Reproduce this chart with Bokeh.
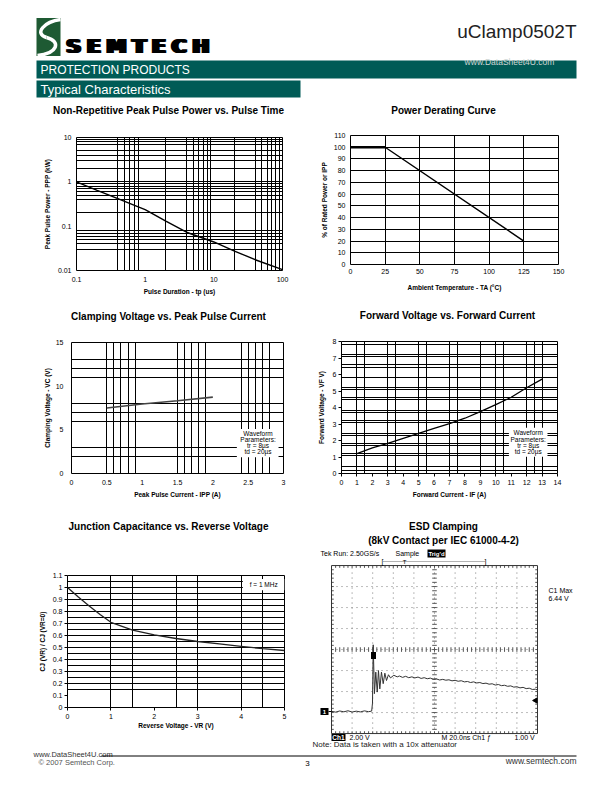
from bokeh.plotting import figure
from bokeh.models import Range1d, FixedTicker, CustomJSTickFormatter
from bokeh.layouts import column, row
from bokeh.embed import file_html
from bokeh.resources import INLINE
from bokeh.core.properties import value

SANS = "Liberation Sans"
LOGOFONT = "DejaVu Sans"
TEAL = "#005b56"
LOGO_GREEN = "#1e5a33"
PAGE_W = 610

# ---------------- data ----------------
pulse_tp_us = [0.1, 0.2, 0.4, 0.7, 1, 2, 4, 10, 20, 40, 100]
pulse_ppp_kw = [1.0, 0.64, 0.42, 0.295, 0.235, 0.13, 0.073, 0.044, 0.0275, 0.0175, 0.0105]
pulse_x_ticks = [0.1, 1, 10, 100]
pulse_y_ticks = [0.01, 0.1, 1, 10]
pulse_x_grid = [0.4, 0.5, 0.6, 0.7, 0.8, 2, 4, 5, 6, 7, 8, 9, 20, 40, 50, 60, 70, 80, 90]
pulse_y_grid = [0.03, 0.04, 0.05, 0.06, 0.07, 0.08, 0.2, 0.4, 0.5, 0.6, 0.7, 0.8, 0.9,
                1, 2, 3, 4, 5, 7, 8, 9]

derate_temp_c = [0, 25, 125]
derate_pct = [100, 100, 20]
derate_x_ticks = [0, 25, 50, 75, 100, 125, 150]
derate_y_ticks = [0, 10, 20, 30, 40, 50, 60, 70, 80, 90, 100, 110]
derate_x_grid = [25, 50, 75, 100, 125]
derate_y_grid = [10, 20, 30, 40, 50, 60, 70, 80, 90, 100]

clamp_ipp_a = [0.5, 1.0, 1.5, 2.0]
clamp_vc_v = [7.5, 7.95, 8.33, 8.75]
clamp_x_ticks = [0, 0.5, 1, 1.5, 2, 2.5, 3]
clamp_y_ticks = [0, 5, 10, 15]
clamp_x_grid = [0.5, 0.6, 0.7, 0.8, 0.9, 1.5, 1.6, 1.7, 1.8, 1.9, 2.4, 2.5, 2.6, 2.7, 2.8]
clamp_y_grid = [2, 3, 6, 7, 8, 11, 12, 13]

fwd_if_a = [1, 2, 3, 4, 5, 6, 7, 8, 9, 10, 11, 12, 13]
fwd_vf_v = [1.21, 1.55, 1.83, 2.13, 2.43, 2.73, 3.02, 3.35, 3.75, 4.17, 4.62, 5.2, 5.72]
fwd_x_ticks = [0, 1, 2, 3, 4, 5, 6, 7, 8, 9, 10, 11, 12, 13, 14]
fwd_y_ticks = [0, 1, 2, 3, 4, 5, 6, 7, 8]
fwd_x_grid = [1, 1.5, 3, 3.5, 5, 5.5, 7, 7.5, 9, 10, 10.5, 12, 12.5, 13]
fwd_y_grid = [0.2, 0.4, 1.1, 1.2, 1.7, 1.8, 2.3, 2.4, 3.1, 3.2, 3.7, 3.8, 4.5, 4.6,
              5.1, 5.2, 5.8, 6.4, 6.6, 7.1, 7.2, 7.8]

cap_vr_v = [0, 0.25, 0.5, 0.75, 1, 1.5, 2, 2.5, 3, 3.5, 4, 4.5, 5]
cap_ratio = [1.0, 0.92, 0.845, 0.775, 0.71, 0.645, 0.605, 0.575, 0.55, 0.53, 0.51, 0.49, 0.475]
cap_x_ticks = [0, 1, 2, 3, 4, 5]
cap_y_ticks = [0, 0.1, 0.2, 0.3, 0.4, 0.5, 0.6, 0.7, 0.8, 0.9, 1.0, 1.1]
cap_x_grid = [1, 1.5, 2.5, 3, 4, 4.5]
cap_y_grid = [0.15, 0.2, 0.25, 0.3, 0.35, 0.4, 0.45, 0.5, 0.55, 0.6, 0.65, 0.7, 0.75,
              0.8, 0.85, 0.9, 0.95, 1.0, 1.05]

esd_t_ns = [0, 4, 8, 12, 16, 20, 24, 28, 32, 36, 39.0, 39.8, 40.5, 41.7, 43.0, 44.4,
            45.6, 46.9, 48.5, 50.2, 51.8, 53.4, 55.3, 57.3, 60.5, 63.8,
            66, 69, 72, 75, 78, 81, 84, 87, 90, 93, 96, 99, 102, 105, 108, 111, 114,
            117, 120, 123, 126, 129, 132, 135, 138, 141, 144, 147, 150, 153, 156, 159,
            162, 165, 168, 171, 174, 177, 180, 183, 186, 189, 192, 195, 198, 200]
esd_v = [0.02, -0.06, 0.05, -0.03, 0.07, -0.05, 0.03, -0.04, 0.06, -0.02, 0.04,
         0.8, 6.35, 1.7, 3.75, 1.85, 3.9, 2.15, 3.75, 2.65, 3.65, 2.95, 3.5, 3.2, 3.45, 3.3,
         3.38, 3.25, 3.35, 3.22, 3.3, 3.2, 3.28, 3.15, 3.22, 3.12, 3.18, 3.05, 3.1, 3.0,
         3.06, 2.98, 3.02, 2.92, 2.97, 2.88, 2.93, 2.82, 2.86, 2.76, 2.82, 2.72, 2.76,
         2.66, 2.7, 2.6, 2.64, 2.52, 2.57, 2.46, 2.5, 2.4, 2.44, 2.32, 2.36, 2.25, 2.3,
         2.18, 2.22, 2.1, 2.12, 2.05]

FMT = CustomJSTickFormatter(code="return String(Math.round(tick*1000)/1000);")


def no_align(p):
    try:
        p.frame_align = False
    except Exception:
        pass


def txt(p, x, y, s, size, font=SANS, style="normal", color="black", align="left",
        baseline="middle", angle=0):
    p.text(x=[x], y=[y], text=[s], text_font=value(font), text_font_size=size,
           text_font_style=style, text_color=color, text_align=align,
           text_baseline=baseline, angle=angle)


def canvas(top, bottom):
    p = figure(width=PAGE_W, height=bottom - top, x_range=Range1d(0, PAGE_W),
               y_range=Range1d(bottom, top), output_backend="svg",
               toolbar_location=None, x_axis_location=None, y_axis_location=None,
               min_border=0)
    p.grid.visible = False
    p.outline_line_color = None
    no_align(p)
    return p


def chart(w, h, bl, br, bt, bb, xr, yr, xtype="linear", ytype="linear"):
    p = figure(width=w, height=h, x_range=Range1d(*xr), y_range=Range1d(*yr),
               x_axis_type=xtype, y_axis_type=ytype, output_backend="svg",
               toolbar_location=None, min_border_left=bl, min_border_right=br,
               min_border_top=bt, min_border_bottom=bb)
    no_align(p)
    p.outline_line_color = "black"
    p.outline_line_width = 1
    p.outline_line_alpha = 1
    for ax in p.axis:
        ax.axis_line_color = None
        ax.major_tick_in = 0
        ax.major_tick_out = 0
        ax.major_tick_line_color = "black"
        ax.minor_tick_line_color = None
        ax.major_label_text_font = SANS
        ax.major_label_text_font_size = "7px"
        ax.major_label_text_color = "black"
        ax.axis_label_text_font = SANS
        ax.axis_label_text_font_size = "6.5px"
        ax.axis_label_text_font_style = "bold"
        ax.axis_label_text_color = "black"
        ax.formatter = FMT
    for g in p.grid:
        g.grid_line_color = "black"
        g.grid_line_width = 1
        g.grid_line_alpha = 1
    return p


def setup(p, xt, yt, xg, yg, xl, yl, xs, xls, ys, yls, tick_out=0):
    p.xaxis.ticker = FixedTicker(ticks=xt)
    p.yaxis.ticker = FixedTicker(ticks=yt)
    p.xgrid.ticker = FixedTicker(ticks=xg)
    p.ygrid.ticker = FixedTicker(ticks=yg)
    p.xaxis.axis_label = xl
    p.yaxis.axis_label = yl
    p.xaxis.major_label_standoff = xs
    p.xaxis.axis_label_standoff = xls
    p.yaxis.major_label_standoff = ys
    p.yaxis.axis_label_standoff = yls
    p.xaxis.major_tick_out = tick_out
    p.yaxis.major_tick_out = tick_out


TITLE_SIZE = "10px"

# ---------------- header ----------------
hd = canvas(0, 125)
hd.quad(left=[36], right=[60], top=[17.5], bottom=[55.5], fill_color=LOGO_GREEN, line_color=None)
hd.bezier(x0=[60], y0=[19], x1=[46], y1=[37], cx0=[44], cy0=[21], cx1=[33], cy1=[33],
          line_color="white", line_width=3.5)
hd.bezier(x0=[46], y0=[37], x1=[37], y1=[55], cx0=[61], cy0=[41], cx1=[57], cy1=[53],
          line_color="white", line_width=3.5)
for ch, lx in zip(["S", "E", "M", "T", "E", "C", "H"],
                  [64, 84.4, 104.1, 130, 149.6, 169.3, 190]):
    for dx in (0, 1, 2, 3, 4):
        txt(hd, lx + dx, 45, ch, "20px", font=LOGOFONT, style="bold", baseline="alphabetic")
txt(hd, 576, 30.5, "uClamp0502T", "19px", color="#222222", align="right", baseline="alphabetic")
hd.quad(left=[36], right=[576], top=[60], bottom=[78], fill_color=TEAL, line_color=None)
txt(hd, 40, 69.5, "PROTECTION PRODUCTS", "12px", color="white")
txt(hd, 509, 61, "www.DataSheet4U.com", "8.5px", color="#cfd6d4", align="center")
hd.quad(left=[36], right=[300], top=[80], bottom=[97], fill_color=TEAL, line_color=None)
txt(hd, 40, 88.8, "Typical Characteristics", "13px", color="white")
txt(hd, 168, 110, "Non-Repetitive Peak Pulse Power vs. Pulse Time", TITLE_SIZE,
    style="bold", align="center")
txt(hd, 443, 110, "Power Derating Curve", TITLE_SIZE, style="bold", align="center")

# ---------------- chart 1 ----------------
p1 = chart(300, 180, 76, 18, 12, 35, (0.1, 100), (0.01, 10), "log", "log")
setup(p1, pulse_x_ticks, pulse_y_ticks, pulse_x_grid, pulse_y_grid,
      "Pulse Duration - tp (us)", "Peak Pulse Power - PPP (kW)", 6, 3, 5, 4)
p1.line(pulse_tp_us, pulse_ppp_kw, line_color="black", line_width=1.4)

# ---------------- chart 2 ----------------
p2 = chart(310, 180, 50, 52, 10, 41, (0, 150), (0, 110))
setup(p2, derate_x_ticks, derate_y_ticks, derate_x_grid, derate_y_grid,
      "Ambient Temperature - TA (°C)", "% of Rated Power or IPP", 4, 7, 5, 3)
p2.line(derate_temp_c, derate_pct, line_color="black", line_width=1.4)
p2.line(derate_temp_c[:2], derate_pct[:2], line_color="black", line_width=2.6)

# ---------------- strip 2 ----------------
s2 = canvas(305, 330)
txt(s2, 168, 316, "Clamping Voltage vs. Peak Pulse Current", TITLE_SIZE,
    style="bold", align="center")
txt(s2, 447, 315, "Forward Voltage vs. Forward Current", TITLE_SIZE,
    style="bold", align="center")

# ---------------- chart 3 ----------------
p3 = chart(300, 175, 71, 17, 12, 32, (0, 3), (0, 15))
setup(p3, clamp_x_ticks, clamp_y_ticks, clamp_x_grid, clamp_y_grid,
      "Peak Pulse Current - IPP (A)", "Clamping Voltage - VC (V)", 6, 3, 8, 2)
p3.line(clamp_ipp_a, clamp_vc_v, line_color="#444444", line_width=1.6)
p3.quad(left=[2.34], right=[2.93], bottom=[1.85], top=[5.1], fill_color="white", line_color=None)
for s, yy in zip(["Waveform", "Parameters:", "tr = 8µs", "td = 20µs"], [4.63, 3.92, 3.17, 2.5]):
    txt(p3, 2.64, yy, s, "6.5px", align="center")

# ---------------- chart 4 ----------------
p4 = chart(310, 175, 41, 53, 11, 32, (0, 14), (0, 8))
setup(p4, fwd_x_ticks, fwd_y_ticks, fwd_x_grid, fwd_y_grid,
      "Forward Current - IF (A)", "Forward Voltage - VF V)", 3, 3, 2, 5, tick_out=3)
p4.line(fwd_if_a, fwd_vf_v, line_color="black", line_width=1.3)
p4.quad(left=[10.85], right=[13.35], bottom=[1.02], top=[2.78], fill_color="white", line_color=None)
for s, yy in zip(["Waveform", "Parameters:", "tr = 8µs", "td = 20µs"], [2.47, 2.06, 1.68, 1.32]):
    txt(p4, 12.1, yy, s, "6.5px", align="center")

# ---------------- strip 3 ----------------
s3 = canvas(505, 546)
txt(s3, 168, 526, "Junction Capacitance vs. Reverse Voltage", TITLE_SIZE,
    style="bold", align="center")
txt(s3, 443, 526, "ESD Clamping", TITLE_SIZE, style="bold", align="center")
txt(s3, 443, 539.5, "(8kV Contact per IEC 61000-4-2)", TITLE_SIZE,
    style="bold", align="center")

# ---------------- chart 5 ----------------
p5 = chart(300, 204, 67, 16, 29, 43, (0, 5), (0, 1.1))
setup(p5, cap_x_ticks, cap_y_ticks, cap_x_grid, cap_y_grid,
      "Reverse Voltage - VR (V)", "CJ (VR) / CJ (VR=0)", 3, 0, 2, 4, tick_out=3)
p5.line(cap_vr_v, cap_ratio, line_color="#222222", line_width=1.3)
p5.quad(left=[4.04], right=[5.0], bottom=[0.978], top=[1.07], fill_color="white", line_color=None)
txt(p5, 4.52, 1.025, "f = 1 MHz", "6.5px", align="center")

# ---------------- scope (ESD clamping) ----------------
T_DIV = 20.0
V_DIV = 2.0
V_CENTER = 5.9
t_lo, t_hi = 0.0, 10 * T_DIV
v_lo, v_hi = V_CENTER - 4 * V_DIV, V_CENTER + 4 * V_DIV


def X(px):
    return (px - 331) / 1.03


def Y(py):
    return (711 - py) / 10.5


ps = figure(width=310, height=204, x_range=Range1d(X(300), X(610)), y_range=Range1d(Y(750), Y(546)),
            output_backend="svg", toolbar_location=None, x_axis_location=None,
            y_axis_location=None, min_border=0)
no_align(ps)
ps.grid.visible = False
ps.outline_line_color = None

div_t = [k * T_DIV for k in range(1, 10)]
div_v = [v_lo + k * V_DIV for k in range(1, 8)]
ps.segment(x0=div_t, y0=[v_lo] * len(div_t), x1=div_t, y1=[v_hi] * len(div_t),
           line_color="#7a7a7a", line_dash="1 4", line_width=1)
ps.segment(x0=[t_lo] * len(div_v), y0=div_v, x1=[t_hi] * len(div_v), y1=div_v,
           line_color="#7a7a7a", line_dash="1 4", line_width=1)
minor_t = [k * T_DIV / 5 for k in range(1, 50)]
minor_v = [v_lo + k * V_DIV / 5 for k in range(1, 40)]
tl_t, tl_v = 2.2, 0.22
t_mid = 5 * T_DIV
ps.segment(x0=minor_t, y0=[V_CENTER - tl_v] * len(minor_t), x1=minor_t,
           y1=[V_CENTER + tl_v] * len(minor_t), line_color="#555555", line_width=1)
ps.segment(x0=[t_mid - tl_t] * len(minor_v), y0=minor_v, x1=[t_mid + tl_t] * len(minor_v),
           y1=minor_v, line_color="#555555", line_width=1)
ps.segment(x0=minor_t, y0=[v_hi] * len(minor_t), x1=minor_t, y1=[v_hi - tl_v] * len(minor_t),
           line_color="#555555", line_width=1)
ps.segment(x0=minor_t, y0=[v_lo] * len(minor_t), x1=minor_t, y1=[v_lo + tl_v] * len(minor_t),
           line_color="#555555", line_width=1)
ps.segment(x0=[t_lo] * len(minor_v), y0=minor_v, x1=[t_lo + tl_t] * len(minor_v), y1=minor_v,
           line_color="#555555", line_width=1)
ps.segment(x0=[t_hi] * len(minor_v), y0=minor_v, x1=[t_hi - tl_t] * len(minor_v), y1=minor_v,
           line_color="#555555", line_width=1)
ps.quad(left=[t_lo], right=[t_hi], bottom=[v_lo], top=[v_hi], fill_color=None,
        line_color="#333333", line_width=1)
ps.line(esd_t_ns, esd_v, line_color="#333333", line_width=1)

# scope decorations
txt(ps, X(320), Y(553), "Tek Run: 2.50GS/s", "7px")
txt(ps, X(395), Y(553), "Sample", "7px")
ps.quad(left=[X(427)], right=[X(445)], top=[Y(549)], bottom=[Y(557)], fill_color="black", line_color=None)
txt(ps, X(436), Y(553), "Trig'd", "6px", style="bold", color="white", align="center")
ps.segment(x0=[X(383)], y0=[Y(561)], x1=[X(484)], y1=[Y(561)], line_color="#666666",
           line_dash="1 1", line_width=1)
txt(ps, X(382), Y(561), "[", "7px", align="center")
txt(ps, X(485), Y(561), "]", "7px", align="center")
txt(ps, X(404), Y(561.5), "T", "6px", align="center")
ps.quad(left=[X(320)], right=[X(328)], top=[Y(707.5)], bottom=[Y(714.5)], fill_color="black", line_color=None)
txt(ps, X(324), Y(711), "1", "6px", style="bold", color="white", align="center")
ps.segment(x0=[X(328)], y0=[Y(711)], x1=[X(331)], y1=[Y(711)], line_color="black", line_width=1.2)
ps.quad(left=[X(370.5)], right=[X(375.5)], top=[Y(651.5)], bottom=[Y(658.5)], fill_color="black", line_color=None)
ps.scatter(x=[X(535)], y=[Y(700)], marker="triangle", size=5, angle=1.5708,
           fill_color="black", line_color="black")
txt(ps, X(548), Y(590), "C1 Max", "7px")
txt(ps, X(548), Y(597.5), "6.44 V", "7px")
ps.quad(left=[X(331)], right=[X(345)], top=[Y(733.5)], bottom=[Y(740.5)], fill_color="black", line_color=None)
txt(ps, X(338), Y(737), "Ch1", "6.5px", style="bold", color="white", align="center")
txt(ps, X(349), Y(737), "2.00 V", "7px")
txt(ps, X(441), Y(737), "M 20.0ns  Ch1 ƒ", "7px")
txt(ps, X(514), Y(737), "1.00 V", "7px")
txt(ps, X(312), Y(744), "Note: Data is taken with a 10x attenuator", "8px", color="#222222")

# ---------------- footer ----------------
ft = canvas(750, 790)
txt(ft, 33, 753.5, "www.DataSheet4U.com", "7.5px", color="#333333")
ft.segment(x0=[101], y0=[755.5], x1=[576], y1=[755.5], line_color="black", line_width=1)
txt(ft, 38, 761.5, "© 2007 Semtech Corp.", "7.5px", color="#555555")
txt(ft, 307, 762.5, "3", "8px", align="center")
txt(ft, 576, 760.5, "www.semtech.com", "8.5px", color="#333333", align="right")

layout = column(hd, row(p1, p2), s2, row(p3, p4), s3, row(p5, ps), ft)
open("out.html", "w").write(file_html(layout, INLINE))
